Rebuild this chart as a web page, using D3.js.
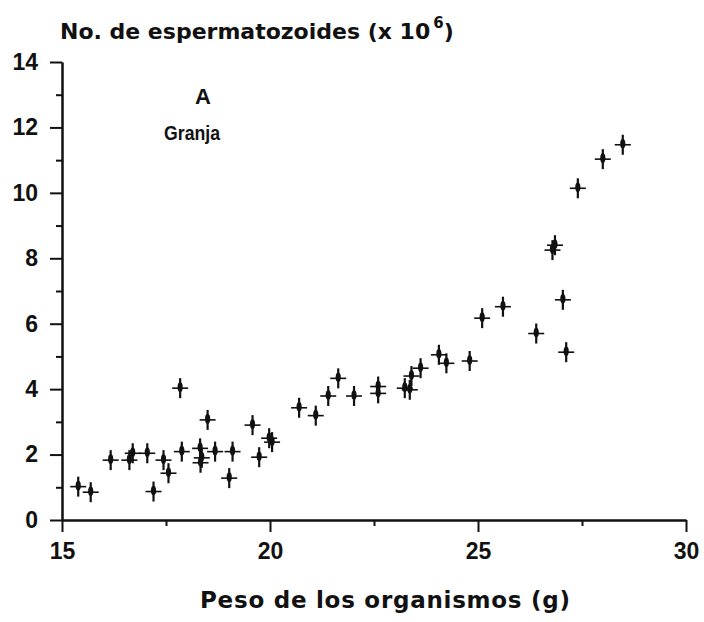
<!DOCTYPE html>
<html>
<head>
<meta charset="UTF-8" />
<script src="https://cdn.jsdelivr.net/npm/d3@7"></script>
<title>Granja</title>
<style>
    body { margin: 0; background: white; }
    text { font-family: "Liberation Sans", Arial, sans-serif; font-weight: bold; fill: #111; }
    .wide { font-family: "DejaVu Sans", sans-serif; }
</style>
</head>
<body>
<div id="chart"></div>
<script>
// peso de los organismos (g)
const peso = [15.39, 15.69, 16.17, 16.62, 16.7, 17.05, 17.2, 17.44, 17.56, 17.84,
    17.88, 18.32, 18.33, 18.36, 18.5, 18.68, 19.02, 19.1, 19.58, 19.74,
    19.98, 20.05, 20.7, 21.1, 21.4, 21.64, 22.02, 22.6, 22.6, 23.24,
    23.36, 23.4, 23.62, 24.06, 24.24, 24.8, 25.1, 25.6, 26.4, 26.79,
    26.85, 27.04, 27.12, 27.4, 28.0, 28.48];
// no. de espermatozoides (x 10^6)
const esperm = [1.02, 0.85, 1.83, 1.83, 2.04, 2.04, 0.87, 1.83, 1.43, 4.03,
    2.09, 2.19, 1.75, 1.9, 3.06, 2.09, 1.28, 2.09, 2.9, 1.92,
    2.5, 2.38, 3.43, 3.19, 3.79, 4.33, 3.79, 4.08, 3.87, 4.03,
    3.98, 4.4, 4.64, 5.05, 4.79, 4.86, 6.17, 6.52, 5.7, 8.25,
    8.4, 6.73, 5.13, 10.14, 11.03, 11.47];
const xTicks = [15, 20, 25, 30];
const xMinor = [17.5, 22.5, 27.5];
const yTicks = [0, 2, 4, 6, 8, 10, 12, 14];
const yMinor = [1, 3, 5, 7, 9, 11, 13];

const w = 704, h = 622;
const svg = d3.select("#chart").append("svg")
    .attr("width", w)
    .attr("height", h);

const xScale = d3.scaleLinear().domain([15, 30]).range([62, 686]);
const yScale = d3.scaleLinear().domain([0, 14]).range([520, 62]);

// minor ticks first, no labels
svg.append("g")
    .attr("transform", "translate(0," + yScale(0) + ")")
    .call(d3.axisBottom(xScale).tickValues(xMinor).tickSize(6).tickSizeOuter(0).tickFormat(""));
svg.append("g")
    .attr("transform", "translate(" + xScale(15) + ",0)")
    .call(d3.axisLeft(yScale).tickValues(yMinor).tickSize(6).tickSizeOuter(0).tickFormat(""));

svg.append("g")
    .attr("transform", "translate(0," + yScale(0) + ")")
    .call(d3.axisBottom(xScale).tickValues(xTicks).tickSize(12).tickSizeOuter(0).tickPadding(11));
svg.append("g")
    .attr("transform", "translate(" + xScale(15) + ",0)")
    .call(d3.axisLeft(yScale).tickValues(yTicks).tickSize(12).tickSizeOuter(0).tickPadding(12));

svg.selectAll(".domain, .tick line")
    .attr("stroke", "#111")
    .attr("stroke-width", 2);
svg.selectAll(".tick text")
    .attr("font-size", 23)
    .attr("font-family", "Liberation Sans, Arial, sans-serif")
    .attr("font-weight", "bold")
    .attr("fill", "#111");

// markers: plus with a thick blob on the stem
const marks = svg.append("g")
    .selectAll("g")
    .data(peso.map((p, i) => [p, esperm[i]]))
    .enter()
    .append("g")
    .attr("transform", d => "translate(" + xScale(d[0]) + "," + yScale(d[1]) + ")");
marks.append("path")
    .attr("d", "M0,-10V10")
    .attr("stroke", "#111")
    .attr("stroke-width", 2.2);
marks.append("path")
    .attr("d", "M-8,0H8")
    .attr("stroke", "#111")
    .attr("stroke-width", 1.6);
marks.append("ellipse")
    .attr("cx", 0)
    .attr("cy", -1)
    .attr("rx", 2.6)
    .attr("ry", 4.8)
    .attr("fill", "#111");

// labels
const title = svg.append("text")
    .attr("class", "wide")
    .attr("x", 60)
    .attr("y", 39)
    .attr("font-size", 22);
title.append("tspan").text("No. de espermatozoides (x 10");
title.append("tspan").attr("dx", 3).attr("dy", -11).attr("font-size", 15).text("6");
title.append("tspan").attr("dy", 11).text(")");

svg.append("text")
    .attr("x", 203)
    .attr("y", 104)
    .attr("text-anchor", "middle")
    .attr("font-size", 22)
    .text("A");
svg.append("text")
    .attr("x", 192)
    .attr("y", 140)
    .attr("text-anchor", "middle")
    .attr("font-size", 21)
    .attr("textLength", 56)
    .attr("lengthAdjust", "spacingAndGlyphs")
    .text("Granja");

svg.append("text")
    .attr("class", "wide")
    .attr("x", 385)
    .attr("y", 608)
    .attr("text-anchor", "middle")
    .attr("font-size", 23)
    .attr("textLength", 370)
    .attr("lengthAdjust", "spacing")
    .text("Peso de los organismos (g)");
</script>
</body>
</html>
